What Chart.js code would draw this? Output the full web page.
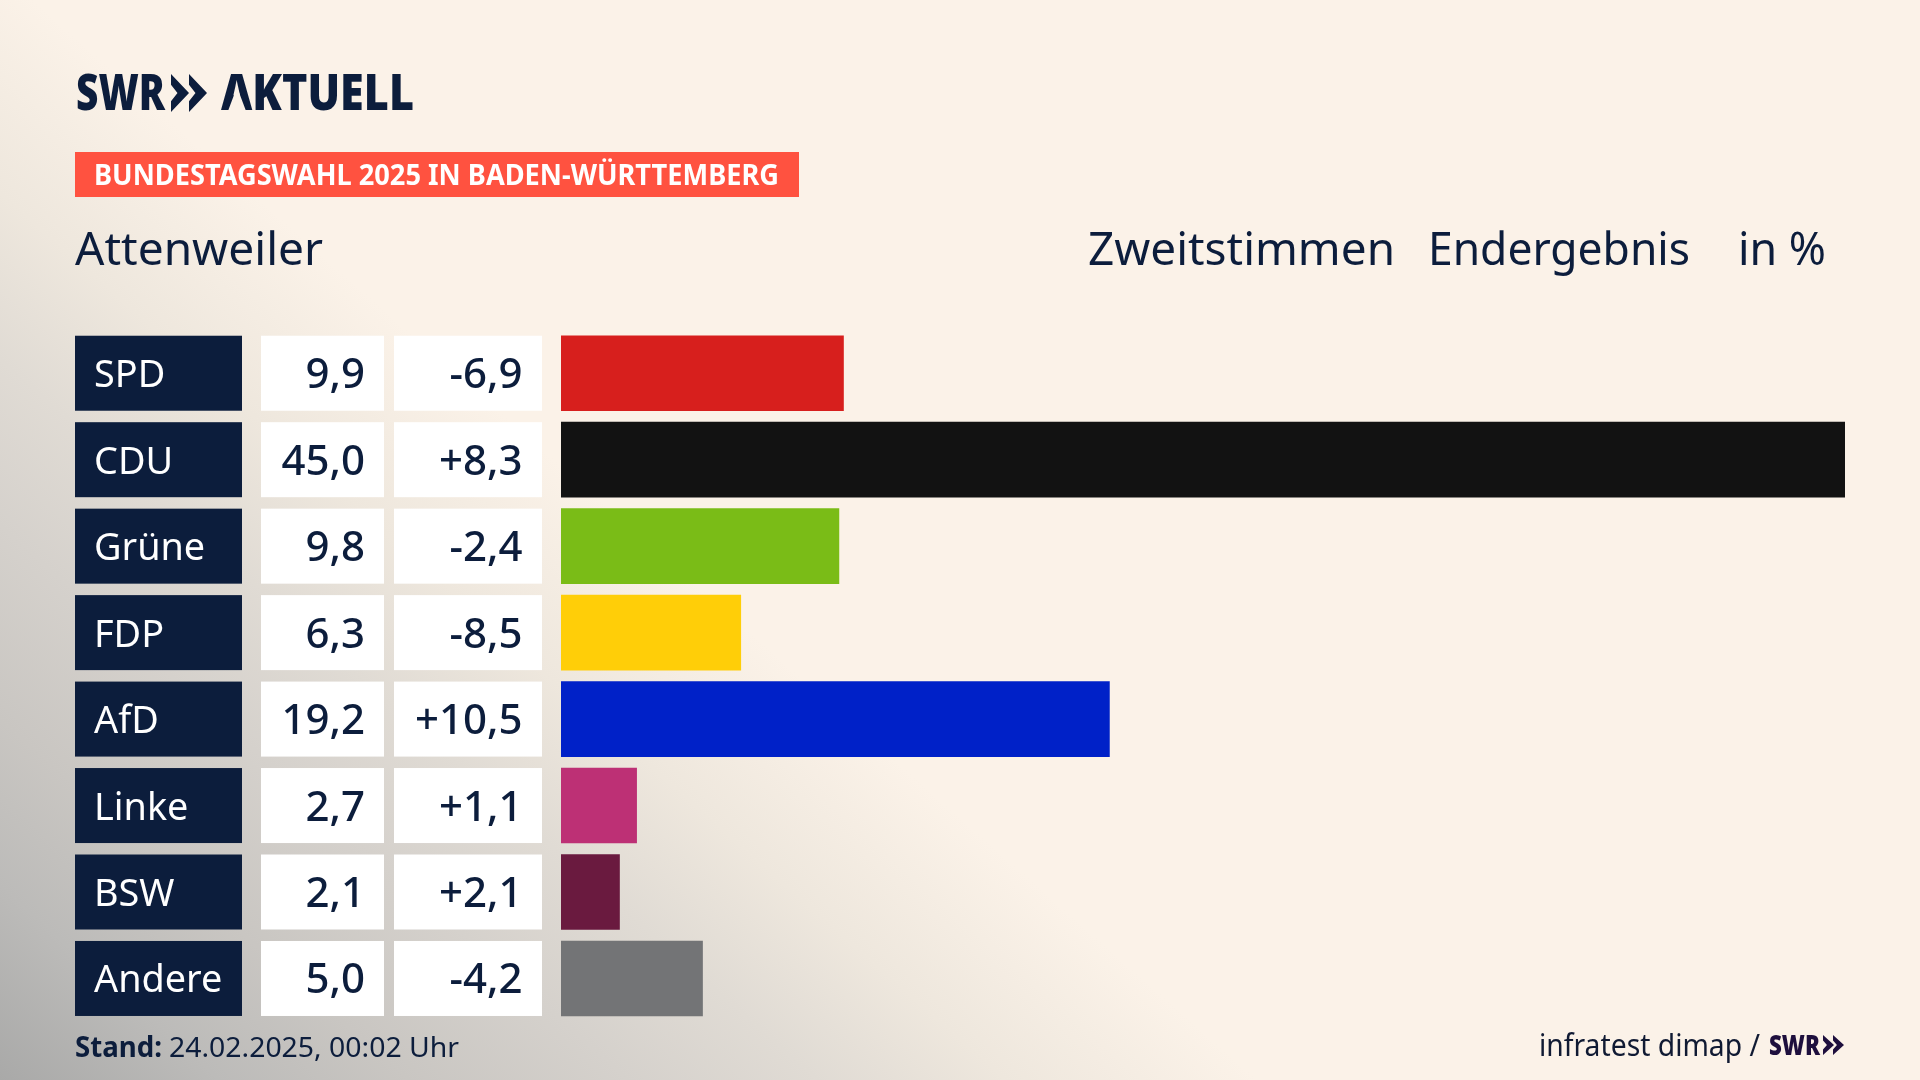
<!DOCTYPE html>
<html lang="de"><head><meta charset="utf-8">
<title>Bundestagswahl 2025 Attenweiler</title>
<script src="https://cdn.jsdelivr.net/npm/chart.js@4"></script>
<style>
html,body{margin:0;padding:0;width:1920px;height:1080px;overflow:hidden;background-color:#fbf2e8;}
body{background-image:linear-gradient(41.4deg,#a9a9a8 0%,#bcbbb9 7%,#c9c6c2 13%,#d5d1cc 20%,#e0dbd4 26%,#eee7dd 32%,#fbf2e8 40%);}
canvas{display:block;position:absolute;left:0;top:0;}
</style></head><body>
<canvas id="c" width="1920" height="1080"></canvas>
<script>
const parties = ["SPD","CDU","Grüne","FDP","AfD","Linke","BSW","Andere"];
const shareLabels  = ["9,9","45,0","9,8","6,3","19,2","2,7","2,1","5,0"];
const changeLabels = ["-6,9","+8,3","-2,4","-8,5","+10,5","+1,1","+2,1","-4,2"];
const barLengths = [9.9,45.0,9.74,6.30,19.22,2.65,2.05,4.96];
const barColors = ["#d71f1d","#121212","#7abc17","#ffce08","#0021c8","#bd3075","#6a1a3f","#737476"];
const NAVY="#0c1d3c", SANS='"Noto Sans"';

function measure(c,s,f){c.save();c.font=f;const w=c.measureText(s).width;c.restore();return w;}
function txt(ctx,s,x,y,font,color,width,align){
  ctx.save();ctx.font=font;ctx.fillStyle=color;ctx.textBaseline="alphabetic";ctx.textAlign="left";
  const w=ctx.measureText(s).width,k=width?width/w:1;
  ctx.translate(align==="right"?x-w*k:x,y);ctx.scale(k,1);ctx.fillText(s,0,0);ctx.restore();
}
function chevrons(ctx,x,y,cw,gap,h,color){
  ctx.save();ctx.fillStyle=color;
  for(const ox of [0,gap]){ctx.beginPath();
    ctx.moveTo(x+ox,y);ctx.lineTo(x+ox+cw,y+h/2);ctx.lineTo(x+ox,y+h);ctx.lineTo(x+ox,y+h*.72);
    ctx.lineTo(x+ox+cw*.36,y+h/2);ctx.lineTo(x+ox,y+h*.28);ctx.closePath();ctx.fill();}
  ctx.restore();
}
const page={id:"page",
 beforeDatasetsDraw(ch){
  const c=ch.ctx,ys=ch.scales.y,h=75;
  parties.forEach((p,i)=>{const t=ys.getPixelForValue(i)-h/2;
   c.fillStyle=NAVY;c.fillRect(75,t,167,h);
   c.fillStyle="#fff";c.fillRect(261,t,123,h);c.fillRect(394,t,148,h);});
 },
 afterDatasetsDraw(ch){
  const c=ch.ctx,ys=ch.scales.y;
  parties.forEach((p,i)=>{const m=ys.getPixelForValue(i);
   const lf=`38px ${SANS}`, f=`500 42px ${SANS}`;
   txt(c,p,94,m+14,lf,"#fff",measure(c,p,lf)*.995);
   txt(c,shareLabels[i],365,m+15,f,NAVY,measure(c,shareLabels[i],f)*1.0,"right");
   txt(c,changeLabels[i],522.5,m+15,f,NAVY,measure(c,changeLabels[i],f)*1.0,"right");
  });
  // logo
  const lg=`900 50px ${SANS}`;
  txt(c,"SWR",76,110,lg,NAVY,89);
  chevrons(c,171,74,18,18,38,NAVY);
  c.save();c.beginPath();c.rect(0,0,1920,1080);
  c.moveTo(237,87);c.lineTo(246,111);c.lineTo(228,111);c.closePath();c.clip("evenodd");
  txt(c,"AKTUELL",221,110,lg,NAVY,193);
  c.restore();
  // banner
  c.fillStyle="#ff5240";c.fillRect(75,152,724,45);
  txt(c,"BUNDESTAGSWAHL 2025 IN BADEN-WÜRTTEMBERG",94,184.5,`bold 28px ${SANS}`,"#fff",685);
  const hf=`45px ${SANS}`;
  txt(c,"Attenweiler",75,264.5,hf,NAVY,248);
  txt(c,"Zweitstimmen",1088,264.5,hf,NAVY,307);
  txt(c,"Endergebnis",1428,264.5,hf,NAVY,262);
  txt(c,"in %",1738,264.5,hf,NAVY,88);
  // footer
  txt(c,"Stand:",75,1057,`bold 28px ${SANS}`,NAVY,87);
  txt(c,"24.02.2025, 00:02 Uhr",169,1057,`28px ${SANS}`,NAVY,290);
  txt(c,"infratest dimap /",1539,1056,`30px ${SANS}`,"#101a33",221);
  txt(c,"SWR",1769,1055,`900 28px ${SANS}`,"#1e0f3d",51);
  chevrons(c,1823,1035,11,10,20,"#1e0f3d");
 }};
new Chart(document.getElementById("c"),{
 type:"bar",
 data:{labels:parties,datasets:[{label:"Zweitstimmen in %",data:barLengths,backgroundColor:barColors,borderWidth:0,barThickness:75}]},
 options:{indexAxis:"y",responsive:false,animation:false,devicePixelRatio:1,
  layout:{padding:{left:561,right:75,top:330,bottom:58.3}},
  plugins:{legend:{display:false},title:{display:false},tooltip:{enabled:false}},
  scales:{x:{display:false,min:0,max:45},y:{display:false}}},
 plugins:[page]});
</script></body></html>
